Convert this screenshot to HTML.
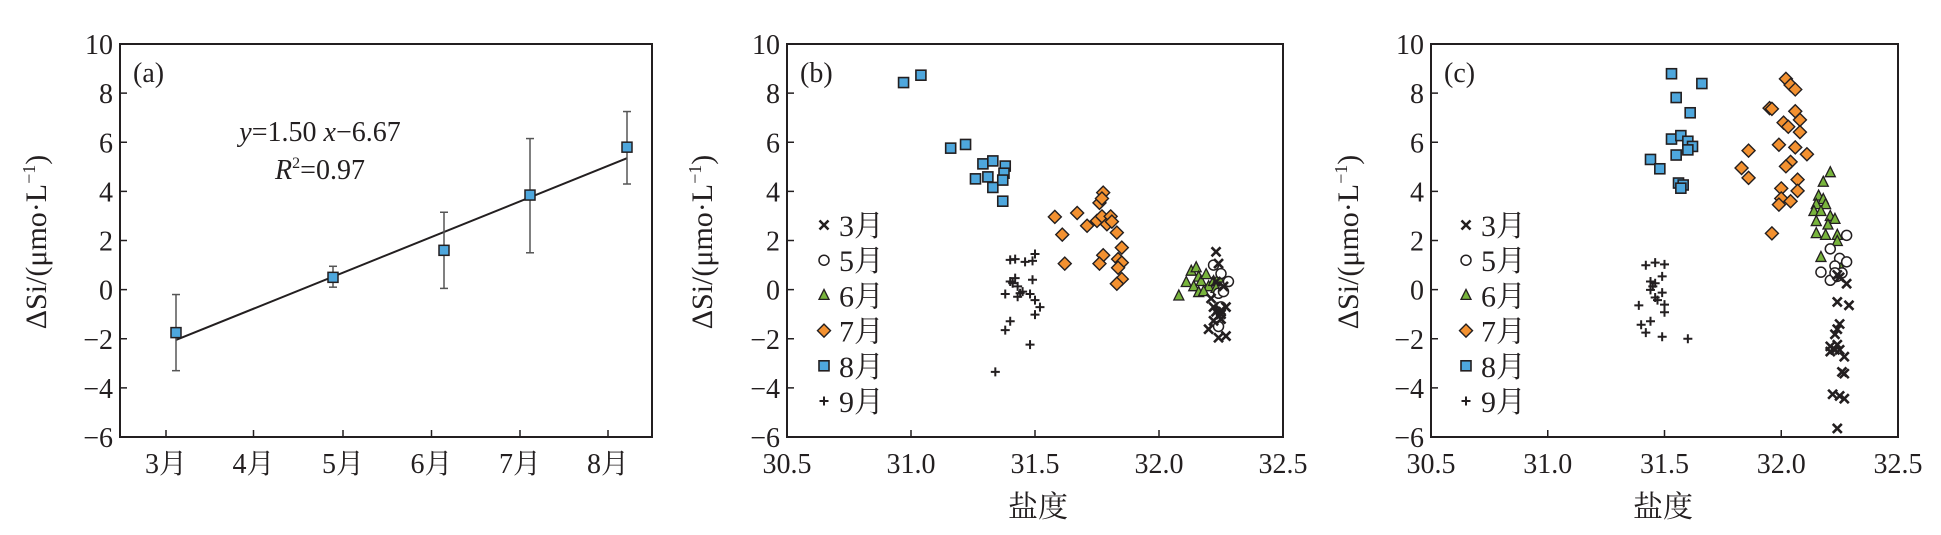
<!DOCTYPE html>
<html><head><meta charset="utf-8">
<style>
html,body{margin:0;padding:0;background:#fff;}
svg{display:block;}
text{font-family:"Liberation Serif","Noto Serif CJK SC",serif;fill:#231f20;}
</style></head>
<body>
<svg id="s" width="1941" height="535" viewBox="0 0 1941 535" xmlns="http://www.w3.org/2000/svg"></svg>
<script>
const S=document.getElementById('s');let h='';
const Y0=44,Y1=437;
function yy(v){return Y0+(10-v)*(Y1-Y0)/16;}
function yaxis(L,R,lab,ylx){
  h+=`<rect x="${L}" y="${Y0}" width="${R-L}" height="${Y1-Y0}" fill="none" stroke="#231f20" stroke-width="2"/>`;
  for(let v=-6;v<=10;v+=2){const y=yy(v);
    h+=`<line x1="${L}" y1="${y}" x2="${L+7}" y2="${y}" stroke="#231f20" stroke-width="1.5"/>`;
    h+=`<text x="${L-7}" y="${y+10}" font-size="28" text-anchor="end">${v<0?'−'+(-v):v}</text>`;}
  h+=`<text x="${L+13}" y="${Y0+38}" font-size="28">${lab}</text>`;
  h+=`<text transform="translate(${ylx},242) rotate(-90)" font-size="30" text-anchor="middle">ΔSi/(μmo·L<tspan font-size="18" dy="-11">−1</tspan><tspan dy="11">)</tspan></text>`;
}
// panel a
yaxis(120,652,'(a)',46);
const ax=[166,253.5,343,431.5,520,608];
ax.forEach((x,i)=>{h+=`<line x1="${x}" y1="${Y1}" x2="${x}" y2="${Y1-7}" stroke="#231f20" stroke-width="1.5"/><text x="${x}" y="${Y1+36}" font-size="28" text-anchor="middle">${i+3}月</text>`;});
h+=`<line x1="176" y1="${yy(-2.05)}" x2="627" y2="${yy(5.35)}" stroke="#231f20" stroke-width="2"/>`;
[[176,-1.75,-3.3,-0.2],[333,0.5,0.1,0.95],[444,1.6,0.05,3.15],[530,3.85,1.5,6.15],[627,5.8,4.3,7.25]].forEach(d=>{
 const [x,v,lo,hi]=d;
 h+=`<line x1="${x}" y1="${yy(lo)}" x2="${x}" y2="${yy(hi)}" stroke="#555" stroke-width="1.5"/><line x1="${x-4}" y1="${yy(lo)}" x2="${x+4}" y2="${yy(lo)}" stroke="#555" stroke-width="1.5"/><line x1="${x-4}" y1="${yy(hi)}" x2="${x+4}" y2="${yy(hi)}" stroke="#555" stroke-width="1.5"/>`;
 h+=`<rect x="${x-5}" y="${yy(v)-5}" width="10" height="10" fill="#4ea7dd" stroke="#231f20" stroke-width="1.5"/>`;});
h+=`<text x="320" y="141" font-size="28" text-anchor="middle"><tspan font-style="italic">y</tspan>=1.50 <tspan font-style="italic">x</tspan>−6.67</text>`;
h+=`<text x="320" y="179" font-size="28" text-anchor="middle"><tspan font-style="italic">R</tspan><tspan font-size="16" dy="-11">2</tspan><tspan dy="11">=0.97</tspan></text>`;

function mk(t,x,y){
 if(t==8)return `<rect x="${x-5}" y="${y-5}" width="10" height="10" fill="#4ea7dd" stroke="#231f20" stroke-width="1.6"/>`;
 if(t==7)return `<path d="M${x} ${y-6.5}L${x+6.5} ${y}L${x} ${y+6.5}L${x-6.5} ${y}Z" fill="#f39130" stroke="#231f20" stroke-width="1.4"/>`;
 if(t==6)return `<path d="M${x} ${y-6}L${x+5} ${y+4}L${x-5} ${y+4}Z" fill="#78b43c" stroke="#231f20" stroke-width="1.3"/>`;
 if(t==5)return `<circle cx="${x}" cy="${y}" r="5" fill="#fff" stroke="#231f20" stroke-width="1.5"/>`;
 if(t==3)return `<path d="M${x-4.5} ${y-4.5}L${x+4.5} ${y+4.5}M${x+4.5} ${y-4.5}L${x-4.5} ${y+4.5}" stroke="#231f20" stroke-width="2.6"/>`;
 return `<path d="M${x-4.5} ${y}H${x+4.5}M${x} ${y-4.5}V${y+4.5}" stroke="#231f20" stroke-width="2"/>`;
}
function scat(L,R,lab,ylx,mx,tx,xlx,data){
 yaxis(L,R,lab,ylx);
 const sx=v=>L+(v-30.5)*(R-L)/2;
 [30.5,31.0,31.5,32.0,32.5].forEach(v=>{const x=sx(v);
  if(v>30.5&&v<32.5)h+=`<line x1="${x}" y1="${Y1}" x2="${x}" y2="${Y1-7}" stroke="#231f20" stroke-width="1.5"/>`;
  h+=`<text x="${x}" y="${Y1+36}" font-size="28" text-anchor="middle">${v.toFixed(1)}</text>`;});
 h+=`<text x="${xlx}" y="517" font-size="30" text-anchor="middle">盐度</text>`;
 for(const k of [6,5,3,9,7,8])for(const p of data[k])h+=mk(k,sx(p[0]),yy(p[1]));
 [3,5,6,7,8,9].forEach((k,i)=>{const y=225+i*35.2;h+=mk(k,mx,y);h+=`<text x="${tx}" y="${y+11}" font-size="30">${k}月</text>`;});
}
const B={
8:[[30.97,8.43],[31.04,8.73],[31.16,5.76],[31.22,5.91],[31.29,5.12],[31.33,5.24],[31.38,5.03],[31.26,4.51],[31.31,4.59],[31.33,4.16],[31.375,4.74],[31.37,4.46],[31.37,3.6]],
7:[[31.58,2.96],[31.61,2.24],[31.62,1.06],[31.67,3.12],[31.71,2.6],[31.75,2.8],[31.76,3.53],[31.775,3.95],[31.77,3.71],[31.77,2.98],[31.79,2.66],[31.805,2.98],[31.81,2.77],[31.83,2.32],[31.85,1.71],[31.775,1.4],[31.76,1.06],[31.835,1.24],[31.85,1.1],[31.835,0.89],[31.85,0.43],[31.83,0.24]],
9:[[31.34,-3.35],[31.38,-1.65],[31.40,-1.29],[31.38,-0.18],[31.40,1.21],[31.42,1.24],[31.42,0.47],[31.43,0.13],[31.41,0.26],[31.44,-0.15],[31.45,-0.08],[31.46,1.13],[31.50,1.45],[31.49,1.17],[31.49,0.4],[31.48,-0.18],[31.50,-0.43],[31.52,-0.71],[31.50,-1.02],[31.48,-2.24],[31.43,-0.29],[31.40,0.33]],
6:[[32.08,-0.26],[32.11,0.29],[32.13,0.75],[32.15,0.89],[32.16,0.51],[32.14,0.12],[32.17,0.33],[32.19,0.61],[32.2,0.12],[32.22,0.33],[32.24,0.47],[32.16,-0.12],[32.18,-0.08],[32.23,0.05]],
5:[[32.22,1.0],[32.25,0.65],[32.28,0.33],[32.24,-0.15],[32.25,-0.7],[32.24,-1.5],[32.26,-0.08]],
3:[[32.23,1.54],[32.24,1.06],[32.21,-0.36],[32.22,-0.71],[32.24,-1.06],[32.25,-0.85],[32.27,-0.71],[32.25,-1.2],[32.2,-1.61],[32.24,-1.96],[32.27,-1.89],[32.23,0.33],[32.26,0.13],[32.22,-1.27],[32.23,-0.9],[32.25,-1.0]]};
const C={
8:[[31.53,8.79],[31.66,8.39],[31.55,7.82],[31.61,7.2],[31.53,6.13],[31.57,6.27],[31.6,6.04],[31.62,5.83],[31.6,5.69],[31.55,5.48],[31.44,5.3],[31.48,4.92],[31.56,4.34],[31.58,4.26],[31.57,4.13]],
7:[[32.02,8.58],[32.04,8.33],[32.06,8.15],[31.95,7.39],[31.96,7.36],[32.06,7.26],[32.08,6.91],[32.01,6.8],[32.03,6.63],[32.08,6.41],[31.99,5.9],[32.06,5.79],[31.86,5.66],[32.11,5.51],[32.04,5.2],[32.02,5.02],[31.83,4.95],[31.86,4.55],[32.07,4.48],[32.0,4.12],[32.07,4.02],[32.0,3.71],[32.04,3.6],[31.99,3.46],[31.96,2.29]],
6:[[32.21,4.76],[32.18,4.37],[32.16,3.81],[32.18,3.67],[32.15,3.46],[32.19,3.46],[32.14,3.18],[32.17,3.18],[32.21,2.98],[32.23,2.86],[32.15,2.77],[32.2,2.63],[32.15,2.28],[32.19,2.21],[32.24,2.21],[32.24,1.96],[32.17,1.31],[32.25,0.96]],
5:[[32.28,2.21],[32.21,1.66],[32.25,1.27],[32.28,1.13],[32.17,0.71],[32.23,0.96],[32.21,0.38],[32.24,0.54],[32.26,0.68],[32.23,0.68]],
3:[[32.28,0.24],[32.24,-0.5],[32.29,-0.64],[32.25,-1.4],[32.24,-1.61],[32.23,-1.82],[32.21,-2.31],[32.24,-2.24],[32.25,-2.45],[32.21,-2.52],[32.27,-2.73],[32.26,-3.35],[32.27,-3.42],[32.22,-4.26],[32.25,-4.33],[32.27,-4.44],[32.24,-5.65],[32.23,-2.45],[32.24,0.6],[32.25,0.5]],
9:[[31.42,0.99],[31.46,1.1],[31.5,1.03],[31.44,0.33],[31.46,0.26],[31.49,0.54],[31.44,-0.01],[31.46,-0.32],[31.49,-0.12],[31.47,-0.43],[31.39,-0.64],[31.5,-0.61],[31.5,-0.92],[31.44,-1.29],[31.4,-1.43],[31.42,-1.75],[31.49,-1.92],[31.6,-2.0],[31.45,0.13]]};
scat(787,1283,'(b)',712,824,839,1038,B);
scat(1431,1898,'(c)',1358,1466,1481,1663,C);
S.innerHTML=h;
</script>
</body></html>
